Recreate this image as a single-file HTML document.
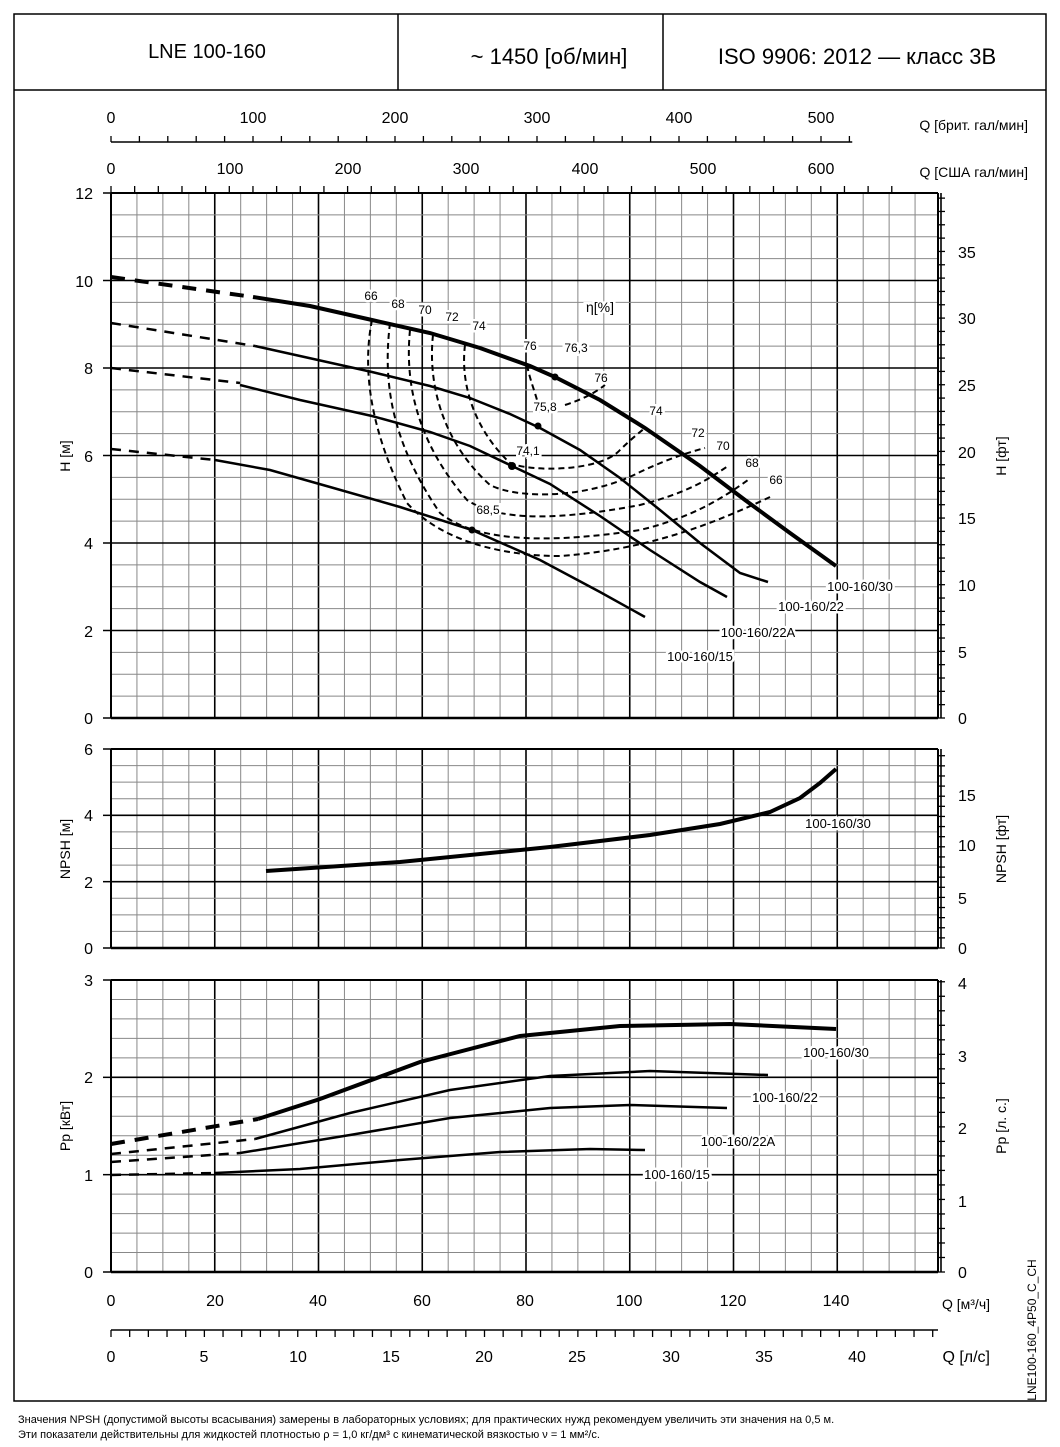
<!DOCTYPE html>
<html><head><meta charset="utf-8"><style>
body{margin:0;background:#fff}
svg{display:block}
text{font-family:"Liberation Sans","DejaVu Sans",sans-serif;fill:#000}
</style></head><body>
<svg id="s" width="1060" height="1447" viewBox="0 0 1060 1447" xmlns="http://www.w3.org/2000/svg">
<rect x="14" y="14" width="1032" height="1387" fill="none" stroke="#000" stroke-width="1.5"/>
<line x1="14" y1="90" x2="1046" y2="90" stroke="#000" stroke-width="1.5"/>
<line x1="398" y1="14" x2="398" y2="90" stroke="#000" stroke-width="1.5"/>
<line x1="663" y1="14" x2="663" y2="90" stroke="#000" stroke-width="1.5"/>
<text x="207" y="58" font-size="20" text-anchor="middle">LNE 100-160</text>
<text x="549" y="64" font-size="22" text-anchor="middle">~ 1450 [об/мин]</text>
<text x="857" y="64" font-size="22" text-anchor="middle">ISO 9906: 2012 — класс 3B</text>
<g id="grid"></g>
<g font-size="16" text-anchor="middle">
<text x="111" y="123">0</text><text x="253" y="123">100</text><text x="395" y="123">200</text><text x="537" y="123">300</text><text x="679" y="123">400</text><text x="821" y="123">500</text>
<text x="111" y="174">0</text><text x="230" y="174">100</text><text x="348" y="174">200</text><text x="466" y="174">300</text><text x="585" y="174">400</text><text x="703" y="174">500</text><text x="821" y="174">600</text>
</g>
<text x="1028" y="130" font-size="14" text-anchor="end">Q [брит. гал/мин]</text>
<text x="1028" y="177" font-size="14" text-anchor="end">Q [США гал/мин]</text>
<g font-size="16" text-anchor="end">
<text x="93" y="199">12</text><text x="93" y="287">10</text><text x="93" y="374">8</text><text x="93" y="462">6</text><text x="93" y="549">4</text><text x="93" y="637">2</text><text x="93" y="724">0</text>
<text x="93" y="755">6</text><text x="93" y="821">4</text><text x="93" y="888">2</text><text x="93" y="954">0</text>
<text x="93" y="986">3</text><text x="93" y="1083">2</text><text x="93" y="1181">1</text><text x="93" y="1278">0</text>
</g>
<g font-size="16" text-anchor="start">
<text x="958" y="258">35</text><text x="958" y="324">30</text><text x="958" y="391">25</text><text x="958" y="458">20</text><text x="958" y="524">15</text><text x="958" y="591">10</text><text x="958" y="658">5</text><text x="958" y="724">0</text>
<text x="958" y="801">15</text><text x="958" y="851">10</text><text x="958" y="904">5</text><text x="958" y="954">0</text>
<text x="958" y="989">4</text><text x="958" y="1062">3</text><text x="958" y="1134">2</text><text x="958" y="1207">1</text><text x="958" y="1278">0</text>
</g>
<text transform="translate(70,456) rotate(-90)" font-size="14" text-anchor="middle">H [м]</text>
<text transform="translate(70,849) rotate(-90)" font-size="14" text-anchor="middle">NPSH [м]</text>
<text transform="translate(70,1126) rotate(-90)" font-size="14" text-anchor="middle">Pp [кВт]</text>
<text transform="translate(1006,456) rotate(-90)" font-size="14" text-anchor="middle">H [фт]</text>
<text transform="translate(1006,849) rotate(-90)" font-size="14" text-anchor="middle">NPSH [фт]</text>
<text transform="translate(1006,1126) rotate(-90)" font-size="14" text-anchor="middle">Pp [л. с.]</text>
<text transform="translate(1036,1330) rotate(-90)" font-size="12" text-anchor="middle">LNE100-160_4P50_C_CH</text>
<g font-size="16" text-anchor="middle">
<text x="111" y="1306">0</text><text x="215" y="1306">20</text><text x="318" y="1306">40</text><text x="422" y="1306">60</text><text x="525" y="1306">80</text><text x="629" y="1306">100</text><text x="733" y="1306">120</text><text x="836" y="1306">140</text>
<text x="111" y="1362">0</text><text x="204" y="1362">5</text><text x="298" y="1362">10</text><text x="391" y="1362">15</text><text x="484" y="1362">20</text><text x="577" y="1362">25</text><text x="671" y="1362">30</text><text x="764" y="1362">35</text><text x="857" y="1362">40</text>
</g>
<text x="990" y="1309" font-size="14" text-anchor="end">Q [м³/ч]</text>
<text x="990" y="1362" font-size="16" text-anchor="end">Q [л/с]</text>
<text x="18" y="1423" font-size="11">Значения NPSH (допустимой высоты всасывания) замерены в лабораторных условиях; для практических нужд рекомендуем увеличить эти значения на 0,5 м.</text>
<text x="18" y="1438" font-size="11">Эти показатели действительны для жидкостей плотностью ρ = 1,0 кг/дм³ с кинематической вязкостью ν = 1 мм²/с.</text>
<g fill="none" stroke="#000" stroke-width="2.5">
<!-- H curves -->
<path d="M111,277 L253,297" stroke-width="4" stroke-dasharray="14,10"/>
<path d="M253,297 L310,306 L372,320 L430,333 L480,348 L530,366 L555,377 L600,400 L645,428 L700,466 L745,500 L790,533 L836,566" stroke-width="4"/>
<path d="M111,323 L255,346" stroke-dasharray="10,8"/>
<path d="M255,346 L300,356 L372,372 L430,386 L470,398 L510,414 L540,428 L580,450 L620,478 L660,510 L700,543 L740,573 L768,582"/>
<path d="M111,368 L240,383" stroke-dasharray="10,8"/>
<path d="M240,385 L300,400 L372,416 L430,432 L470,446 L512,466 L550,484 L600,516 L650,550 L700,582 L727,597"/>
<path d="M111,449 L215,460" stroke-dasharray="10,8"/>
<path d="M215,460 L270,470 L330,487 L400,507 L472,530 L540,560 L600,592 L645,617"/>
<!-- eff -->
<g stroke-width="2" stroke-dasharray="6,4">
<path d="M372,320 C364,360 365,420 407,503 C440,540 500,556 560,556 C640,550 700,530 770,497"/>
<path d="M390,323 C383,380 390,440 440,513 C480,545 560,542 640,530 C690,518 720,500 748,480"/>
<path d="M410,330 C405,380 415,440 467,500 C500,522 560,520 640,505 C690,492 710,478 728,466"/>
<path d="M433,335 C428,380 440,440 490,485 C520,500 590,498 640,472 C670,458 690,452 705,448"/>
<path d="M465,345 C460,385 475,430 510,463 C530,472 600,472 620,450 C630,440 640,432 645,428"/>
<path d="M527,365 C530,380 535,392 537,400"/>
<path d="M565,405 C580,400 592,395 605,385"/>
</g>
<!-- NPSH -->
<path d="M266,871 L400,862 L550,847 L650,835 L720,824 L770,812 L800,798 L820,783 L836,769" stroke-width="4"/>
<!-- power -->
<path d="M111,1144 L258,1119" stroke-width="4" stroke-dasharray="14,10"/>
<path d="M258,1119 L320,1099 L420,1062 L520,1036 L620,1026 L730,1024 L836,1029" stroke-width="4"/>
<path d="M111,1154 L255,1139" stroke-dasharray="10,8"/>
<path d="M255,1139 L350,1113 L450,1090 L550,1076 L650,1071 L768,1075"/>
<path d="M111,1162 L240,1153" stroke-dasharray="10,8"/>
<path d="M240,1153 L350,1135 L450,1118 L550,1108 L630,1105 L727,1108"/>
<path d="M111,1175 L215,1173" stroke-dasharray="10,8"/>
<path d="M215,1173 L300,1169 L400,1160 L500,1152 L590,1149 L645,1150"/>
</g>
<g fill="#000"><circle cx="555" cy="377" r="3.5"/><circle cx="538" cy="426" r="3.5"/><circle cx="512" cy="466" r="4"/><circle cx="472" cy="530" r="3.5"/></g>
<g font-size="12" text-anchor="middle" style="paint-order:stroke" stroke="#fff" stroke-width="5">
<text x="371" y="300">66</text><text x="398" y="308">68</text><text x="425" y="314">70</text><text x="452" y="321">72</text><text x="479" y="330">74</text><text x="530" y="350">76</text><text x="576" y="352">76,3</text><text x="601" y="382">76</text><text x="545" y="411">75,8</text><text x="656" y="415">74</text><text x="698" y="437">72</text><text x="723" y="450">70</text><text x="752" y="467">68</text><text x="776" y="484">66</text><text x="528" y="455">74,1</text><text x="488" y="514">68,5</text>
<text x="600" y="312" font-size="14">η[%]</text>
<text x="860" y="591" font-size="13">100-160/30</text><text x="811" y="611" font-size="13">100-160/22</text><text x="758" y="637" font-size="13">100-160/22A</text><text x="700" y="661" font-size="13">100-160/15</text>
<text x="838" y="828" font-size="13">100-160/30</text>
<text x="836" y="1057" font-size="13">100-160/30</text><text x="785" y="1102" font-size="13">100-160/22</text><text x="738" y="1146" font-size="13">100-160/22A</text><text x="677" y="1179" font-size="13">100-160/15</text>
</g>
</svg>
<script>
var g=document.getElementById('grid'),NS='http://www.w3.org/2000/svg';
function L(x1,y1,x2,y2,c,w){var l=document.createElementNS(NS,'line');l.setAttribute('x1',x1);l.setAttribute('y1',y1);l.setAttribute('x2',x2);l.setAttribute('y2',y2);l.setAttribute('stroke',c);l.setAttribute('stroke-width',w);g.appendChild(l);}
var X0=111,X1=938,px=5.1875;
function panel(top,bot,n,majEvery){
 for(var q=0;q<=160;q+=5){var x=X0+q*px;var maj=q%20==0;L(x,top,x,bot,maj?'#000':'#888',maj?1.6:1);}
 for(var i=0;i<=n;i++){var y=bot-(bot-top)*i/n;var maj=i%majEvery==0;L(X0,y,X1,y,maj?'#000':'#888',maj?1.6:1);}
 L(X0,top,X1,top,'#000',2);L(X0,bot,X1,bot,'#000',2.5);L(X0,top,X0,bot,'#000',2);L(X1,top,X1,bot,'#000',2);
}
panel(193,718,24,4);panel(749,948,12,4);panel(980,1272,15,5);
// left ticks
[[193,718,6],[749,948,3],[980,1272,3]].forEach(function(p){for(var i=0;i<=p[2];i++){var y=p[1]-(p[1]-p[0])*i/p[2];L(X0-8,y,X0,y,'#000',1.5);}});
// right ticks
function rt(bot,top,step,ppu){for(var v=0;bot-v*ppu>=top-0.5;v+=step){var y=bot-v*ppu;L(X1,y,X1+7,y,'#000',1.3);}}
rt(718,193,1,13.33);rt(948,749,1,10.12);rt(1272,980,0.2,72.56);
// top axes
L(X0,142,X0+522*1.42,142,'#000',1.5);for(var v=0;v<=520;v+=20){L(X0+v*1.42,136,X0+v*1.42,142,'#000',1.3);}
for(var v=0;v<=660;v+=20){var x=X0+v*1.183;if(x<=X1)L(x,186,x,193,'#000',1.3);}
// bottom l/s axis
L(X0,1330,X1,1330,'#000',1.5);for(var v=0;v<=44;v++){var x=X0+v*18.675;if(x<=X1)L(x,1330,x,1337,'#000',1.3);}
</script>
</body></html>
